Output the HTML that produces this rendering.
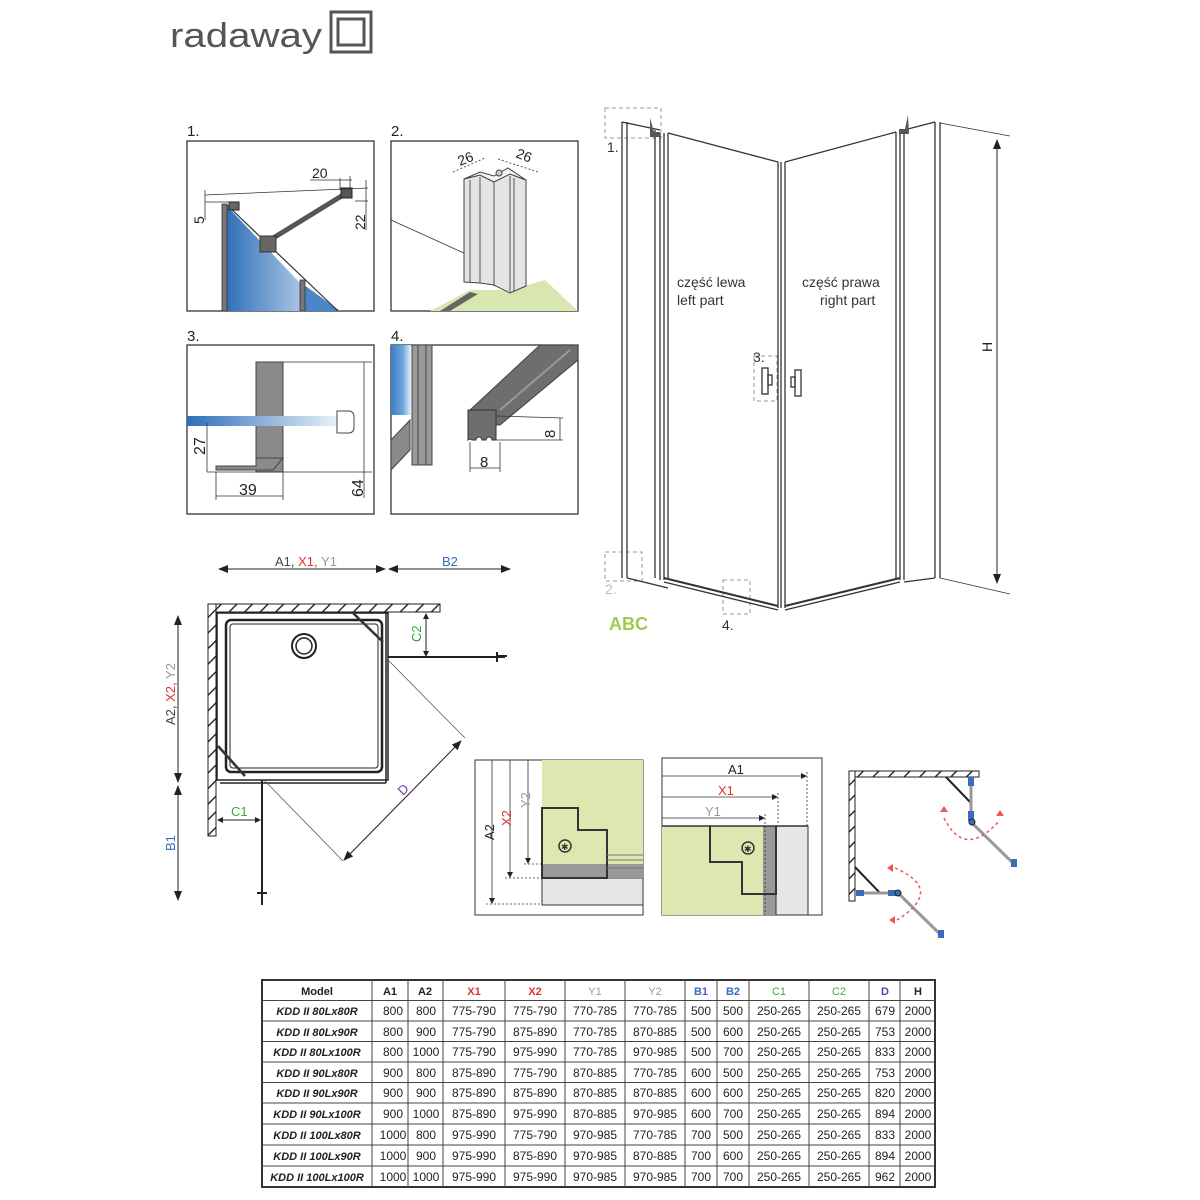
<!DOCTYPE html>
<html><head><meta charset="utf-8">
<style>
html,body{margin:0;padding:0;background:#fff;}
svg{display:block;}
text{font-family:"Liberation Sans",sans-serif;}
</style></head>
<body>
<svg width="1200" height="1200" viewBox="0 0 1200 1200" xmlns="http://www.w3.org/2000/svg">
<defs>
<pattern id="hatch" width="11" height="11" patternUnits="userSpaceOnUse" patternTransform="rotate(45)">
<rect width="11" height="11" fill="#fff"/><line x1="0" y1="0" x2="0" y2="11" stroke="#222" stroke-width="2.8"/>
</pattern>
<linearGradient id="glass" x1="0" x2="1" y1="0" y2="0">
<stop offset="0" stop-color="#2f6fb8"/><stop offset="1" stop-color="#e8f0fa"/>
</linearGradient>
<linearGradient id="glassv" x1="0" x2="1"><stop offset="0" stop-color="#3a7cc4"/><stop offset="0.6" stop-color="#6fa6dc"/><stop offset="1" stop-color="#e8f0fa"/></linearGradient>
<marker id="ar" markerWidth="10" markerHeight="8" refX="9" refY="4" orient="auto-start-reverse" markerUnits="userSpaceOnUse"><path d="M0,0 L10,4 L0,8 z" fill="#222"/></marker>
<marker id="as" markerWidth="6" markerHeight="6" refX="5" refY="3" orient="auto-start-reverse" markerUnits="userSpaceOnUse"><path d="M0,0 L6,3 L0,6 z" fill="#222"/></marker>
</defs>

<!-- logo -->
<text x="170" y="47" font-size="34" fill="#555" textLength="152" lengthAdjust="spacingAndGlyphs">radaway</text>
<rect x="331" y="12" width="40" height="40" fill="none" stroke="#555" stroke-width="3"/>
<rect x="338" y="19" width="26" height="26" fill="none" stroke="#555" stroke-width="3"/>

<!-- detail panels -->
<g font-size="15" fill="#222">
<text x="187" y="136">1.</text><text x="391" y="136">2.</text>
<text x="187" y="341">3.</text><text x="391" y="341">4.</text>
</g>
<g fill="none" stroke="#333" stroke-width="1.3">
<rect x="187" y="141" width="187" height="170"/>
<rect x="391" y="141" width="187" height="170"/>
<rect x="187" y="345" width="187" height="169"/>
<rect x="391" y="345" width="187" height="169"/>
</g>
<!-- panel 1 -->
<polygon points="226,205 300,283 339,311 226,311" fill="url(#glass)"/>
<polygon points="300,282 340,311 303,311" fill="#4a86c8"/>
<rect x="222" y="204" width="5" height="107" fill="#777" stroke="#333" stroke-width="0.8"/>
<line x1="227" y1="205" x2="338" y2="311" stroke="#333" stroke-width="1.2"/>
<rect x="300" y="280" width="5" height="31" fill="#777" stroke="#333" stroke-width="0.8"/>
<line x1="270" y1="240" x2="348" y2="192" stroke="#555" stroke-width="5"/>
<rect x="260" y="236" width="16" height="16" fill="#666" stroke="#333"/>
<rect x="341" y="188" width="11" height="10" fill="#555" stroke="#222"/>
<rect x="229" y="202" width="10" height="8" fill="#666" stroke="#222"/>
<g stroke="#333" stroke-width="0.8" fill="none">
<line x1="205" y1="195" x2="368" y2="188"/><line x1="205" y1="202" x2="230" y2="202"/>
<line x1="205" y1="190" x2="205" y2="220"/>
<line x1="340" y1="178" x2="340" y2="190"/><line x1="350" y1="176" x2="350" y2="190"/>
<line x1="310" y1="180" x2="352" y2="180"/>
<line x1="355" y1="201" x2="368" y2="201"/><line x1="366" y1="180" x2="366" y2="230"/>
</g>
<text x="312" y="178" font-size="14" fill="#222">20</text>
<text transform="translate(204,224) rotate(-90)" font-size="14" fill="#222">5</text>
<text transform="translate(365,230) rotate(-90)" font-size="14" fill="#222">22</text>
<!-- panel 2 -->
<polygon points="430,311 470,290 510,290 545,280 578,311" fill="#d8e6b0"/>
<polygon points="440,311 470,292 478,294 450,311" fill="#666"/>
<line x1="391" y1="220" x2="466" y2="254" stroke="#333" stroke-width="0.8"/>
<polygon points="464,179 480,175 494,182 510,174 526,180 526,286 510,293 494,285 480,283 464,282" fill="#e4e4e4" stroke="#444" stroke-width="1"/>
<polygon points="464,179 480,172 494,176 508,168 526,180 510,174 494,182 480,175" fill="#f4f4f4" stroke="#444" stroke-width="1"/>
<g stroke="#555" stroke-width="1"><line x1="470" y1="180" x2="470" y2="282"/><line x1="480" y1="177" x2="480" y2="283"/><line x1="494" y1="182" x2="494" y2="286"/><line x1="510" y1="176" x2="510" y2="292"/><line x1="514" y1="178" x2="514" y2="292"/></g>
<circle cx="499" cy="173" r="3" fill="#ccc" stroke="#444"/>
<g stroke="#333" stroke-dasharray="2,2" stroke-width="0.8"><line x1="453" y1="172" x2="485" y2="158"/><line x1="498" y1="159" x2="538" y2="172"/></g>
<text transform="translate(460,166) rotate(-22)" font-size="14" fill="#222">26</text>
<text transform="translate(515,157) rotate(22)" font-size="14" fill="#222">26</text>
<!-- panel 3 -->
<rect x="256" y="362" width="27" height="110" fill="#8a8a8a" stroke="#444"/>
<polygon points="216,466 256,466 256,458 283,458 273,470 216,470" fill="#8a8a8a" stroke="#444"/>
<rect x="187" y="416" width="150" height="10" fill="url(#glass)"/>
<path d="M337,411 h12 a5,5 0 0 1 5,5 v12 a5,5 0 0 1 -5,5 h-12 z" fill="#fff" stroke="#444"/>
<g stroke="#333" stroke-width="0.8"><line x1="283" y1="362" x2="372" y2="362"/><line x1="207" y1="472" x2="372" y2="472"/><line x1="364" y1="362" x2="364" y2="498"/><line x1="207" y1="423" x2="207" y2="472"/><line x1="216" y1="472" x2="216" y2="500"/><line x1="283" y1="472" x2="283" y2="500"/><line x1="216" y1="496" x2="283" y2="496"/></g>
<text transform="translate(205,455) rotate(-90)" font-size="16" fill="#222">27</text>
<text x="239" y="495" font-size="16" fill="#222">39</text>
<text transform="translate(363,497) rotate(-90)" font-size="16" fill="#222">64</text>
<!-- panel 4 -->
<rect x="391" y="345" width="20" height="70" fill="url(#glassv)"/>
<rect x="412" y="345" width="20" height="120" fill="#9a9a9a" stroke="#444"/>
<line x1="418" y1="345" x2="418" y2="465" stroke="#444"/><line x1="426" y1="345" x2="426" y2="465" stroke="#444"/>
<polygon points="391,440 410,420 410,450 391,470" fill="#8a8a8a" stroke="#444"/>
<polygon points="470,410 540,345 578,345 578,360 500,425 470,425" fill="#6e6e6e" stroke="#444"/>
<line x1="500" y1="410" x2="570" y2="350" stroke="#999" stroke-width="2"/>
<path d="M468,410 h28 v30 h-4 a3,3 0 0 0 -6,0 h-4 a3,3 0 0 0 -6,0 h-4 a3,3 0 0 0 -4,0 z" fill="#6e6e6e" stroke="#333"/>
<g stroke="#333" stroke-width="0.8"><line x1="496" y1="416" x2="563" y2="418"/><line x1="496" y1="440" x2="563" y2="440"/><line x1="560" y1="418" x2="560" y2="440"/><line x1="470" y1="442" x2="470" y2="472"/><line x1="500" y1="442" x2="500" y2="472"/><line x1="470" y1="468" x2="500" y2="468"/></g>
<text transform="translate(555,438) rotate(-90)" font-size="15" fill="#222">8</text>
<text x="480" y="467" font-size="15" fill="#222">8</text>

<!-- shower elevation -->
<g stroke="#333" fill="none" stroke-width="1.3">
<rect x="605" y="108" width="56" height="30" stroke="#999" stroke-dasharray="4,3" stroke-width="1"/>
<rect x="605" y="552" width="37" height="29" stroke="#999" stroke-dasharray="4,3" stroke-width="1"/>
<rect x="723" y="580" width="27" height="34" stroke="#999" stroke-dasharray="4,3" stroke-width="1"/>
<rect x="754" y="356" width="23" height="45" stroke="#999" stroke-dasharray="4,3" stroke-width="1"/>
<line x1="622" y1="122" x2="622" y2="578"/><line x1="627" y1="122" x2="627" y2="578"/>
<line x1="655" y1="130" x2="655" y2="578"/>
<line x1="660" y1="133" x2="660" y2="580"/><line x1="664" y1="133" x2="664" y2="580"/><line x1="668" y1="133" x2="668" y2="580"/>
<line x1="622" y1="122" x2="660" y2="130"/>
<line x1="668" y1="133" x2="778" y2="162"/>
<line x1="778" y1="162" x2="778" y2="608"/><line x1="781" y1="162" x2="781" y2="608"/><line x1="785" y1="162" x2="785" y2="608"/>
<line x1="785" y1="162" x2="896" y2="132"/>
<line x1="896" y1="132" x2="896" y2="580"/><line x1="900" y1="132" x2="900" y2="580"/><line x1="904" y1="132" x2="904" y2="580"/>
<line x1="904" y1="130" x2="935" y2="122"/>
<line x1="935" y1="122" x2="935" y2="578"/><line x1="940" y1="122" x2="940" y2="578"/>
<line x1="627" y1="578" x2="668" y2="588"/>
<line x1="664" y1="578" x2="778" y2="606" stroke-width="2"/><line x1="664" y1="582" x2="778" y2="610"/>
<line x1="785" y1="606" x2="900" y2="578" stroke-width="2"/><line x1="785" y1="610" x2="900" y2="582"/>
<line x1="904" y1="582" x2="935" y2="578"/>
<line x1="940" y1="123" x2="1010" y2="136" stroke-width="0.8"/>
<line x1="940" y1="578" x2="1010" y2="594" stroke-width="0.8"/>
<rect x="762" y="368" width="6" height="26"/><rect x="768" y="375" width="4" height="10"/>
<rect x="795" y="370" width="6" height="26"/><rect x="791" y="377" width="4" height="10"/>
</g>
<path d="M650,118 l4,14 h6 v5 h-10 z" fill="#555"/><path d="M908,115 l-3,14 h-6 v5 h10 z" fill="#555"/>
<line x1="997" y1="140" x2="997" y2="583" stroke="#222" stroke-width="1" marker-start="url(#ar)" marker-end="url(#ar)"/>
<text transform="translate(992,352) rotate(-90)" font-size="14" fill="#222">H</text>
<g font-size="14" fill="#333">
<text x="677" y="287">część lewa</text><text x="677" y="305">left part</text>
<text x="802" y="287">część prawa</text><text x="820" y="305">right part</text>
<text x="607" y="152">1.</text><text x="605" y="594" fill="#bbb">2.</text>
<text x="753" y="362">3.</text>
</g>
<rect x="720" y="616" width="20" height="16" fill="#fff"/>
<text x="722" y="630" font-size="14" fill="#333">4.</text>
<text x="609" y="630" font-size="18" font-weight="bold" fill="#9ccc4e">ABC</text>

<!-- plan view -->
<line x1="219" y1="569" x2="385" y2="569" stroke="#222" marker-start="url(#ar)" marker-end="url(#ar)"/>
<line x1="389" y1="569" x2="510" y2="569" stroke="#222" marker-start="url(#ar)" marker-end="url(#ar)"/>
<text x="275" y="566" font-size="13" fill="#444">A1, <tspan fill="#d33">X1,</tspan> <tspan fill="#999">Y1</tspan></text>
<text x="442" y="566" font-size="13" fill="#3a6cb8">B2</text>
<rect x="208" y="604" width="232" height="8" fill="url(#hatch)" stroke="#222"/>
<rect x="208" y="604" width="8" height="232" fill="url(#hatch)" stroke="#222"/>
<g fill="none" stroke="#222">
<rect x="217" y="613" width="171" height="167" stroke-width="1.5"/>
<rect x="226" y="620" width="156" height="152" rx="5" stroke-width="2.5"/>
<rect x="230" y="624" width="148" height="144" rx="3" stroke-width="1"/>
<circle cx="304" cy="646" r="12" stroke-width="2"/><circle cx="304" cy="646" r="8" stroke-width="1.5"/>
<line x1="220" y1="783" x2="386" y2="783" stroke-width="1.5"/>
<line x1="386" y1="613" x2="386" y2="783" stroke-width="1.5"/>
</g>
<line x1="352" y1="612" x2="383" y2="642" stroke="#333" stroke-width="2.5"/>
<line x1="218" y1="746" x2="245" y2="776" stroke="#333" stroke-width="2.5"/>
<line x1="388" y1="657" x2="505" y2="657" stroke="#222" stroke-width="2"/>
<path d="M497,652 v10 M497,656 h10" stroke="#222" stroke-width="2" fill="none"/>
<line x1="262" y1="780" x2="262" y2="905" stroke="#222" stroke-width="2"/>
<path d="M257,893 h10 M262,887 v12" stroke="#222" stroke-width="2"/>
<line x1="426" y1="614" x2="426" y2="656" stroke="#222" marker-start="url(#as)" marker-end="url(#as)"/>
<text transform="translate(421,642) rotate(-90)" font-size="13" fill="#3a3">C2</text>
<line x1="218" y1="820" x2="260" y2="820" stroke="#222" marker-start="url(#as)" marker-end="url(#as)"/>
<text x="231" y="816" font-size="13" fill="#3a3">C1</text>
<g stroke="#555" stroke-width="0.8"><line x1="388" y1="660" x2="465" y2="738"/><line x1="264" y1="780" x2="343" y2="861"/></g>
<line x1="344" y1="860" x2="461" y2="741" stroke="#222" marker-start="url(#ar)" marker-end="url(#ar)"/>
<text transform="translate(403,796) rotate(-45)" font-size="13" fill="#6a3aa8">D</text>
<line x1="178" y1="616" x2="178" y2="782" stroke="#222" marker-start="url(#ar)" marker-end="url(#ar)"/>
<line x1="178" y1="786" x2="178" y2="900" stroke="#222" marker-start="url(#ar)" marker-end="url(#ar)"/>
<text transform="translate(175,725) rotate(-90)" font-size="13" fill="#444">A2, <tspan fill="#d33">X2,</tspan> <tspan fill="#999">Y2</tspan></text>
<text transform="translate(175,851) rotate(-90)" font-size="13" fill="#3a6cb8">B1</text>

<!-- detail left -->
<rect x="475" y="760" width="168" height="155" fill="#fff" stroke="#333"/>
<rect x="542" y="760" width="101" height="118" fill="#dce8b0"/>
<rect x="542" y="878" width="101" height="27" fill="#e6e6e6" stroke="#333"/>
<rect x="542" y="864" width="101" height="14" fill="#999"/>
<path d="M542,808 h36 v22 h29 v48 h-65 z" fill="none" stroke="#333" stroke-width="2"/>
<g stroke="#777"><line x1="607" y1="855" x2="643" y2="855"/><line x1="607" y1="860" x2="643" y2="860"/><line x1="607" y1="868" x2="643" y2="868"/></g>
<circle cx="565" cy="846" r="6" fill="none" stroke="#333" stroke-width="1.5"/><text x="561" y="850" font-size="9" fill="#333">✱</text>
<g stroke="#333" stroke-width="0.8"><line x1="492" y1="760" x2="492" y2="903" marker-end="url(#as)"/><line x1="510" y1="760" x2="510" y2="877" marker-end="url(#as)"/><line x1="528" y1="760" x2="528" y2="863" marker-end="url(#as)"/></g>
<g stroke="#333" stroke-width="0.8" stroke-dasharray="2,2"><line x1="486" y1="904" x2="542" y2="904"/><line x1="505" y1="878" x2="542" y2="878"/><line x1="524" y1="864" x2="542" y2="864"/></g>
<text transform="translate(494,840) rotate(-90)" font-size="13" fill="#222">A2</text>
<text transform="translate(511,826) rotate(-90)" font-size="13" fill="#d33">X2</text>
<text transform="translate(530,808) rotate(-90)" font-size="13" fill="#999">Y2</text>

<!-- detail right -->
<rect x="662" y="758" width="160" height="157" fill="#fff" stroke="#333"/>
<rect x="662" y="826" width="101" height="89" fill="#dce8b0"/>
<rect x="763" y="826" width="13" height="89" fill="#999"/>
<rect x="776" y="826" width="32" height="89" fill="#e6e6e6" stroke="#333"/>
<line x1="662" y1="826" x2="808" y2="826" stroke="#333" stroke-width="1.5"/>
<path d="M710,826 v36 h32 v32 h34 v-68" fill="none" stroke="#333" stroke-width="2"/>
<circle cx="748" cy="848" r="6" fill="none" stroke="#333" stroke-width="1.5"/><text x="744" y="852" font-size="9" fill="#333">✱</text>
<g stroke="#333" stroke-width="0.8"><line x1="662" y1="776" x2="806" y2="776" marker-end="url(#as)"/><line x1="662" y1="797" x2="777" y2="797" marker-end="url(#as)"/><line x1="662" y1="818" x2="764" y2="818" marker-end="url(#as)"/></g>
<g stroke="#333" stroke-width="0.8" stroke-dasharray="2,2"><line x1="807" y1="772" x2="807" y2="826"/><line x1="778" y1="793" x2="778" y2="826"/><line x1="765" y1="814" x2="765" y2="915"/></g>
<text x="728" y="774" font-size="13" fill="#222">A1</text>
<text x="718" y="795" font-size="13" fill="#d33">X1</text>
<text x="705" y="816" font-size="13" fill="#999">Y1</text>

<!-- detail swing -->
<rect x="849" y="771" width="130" height="6" fill="url(#hatch)" stroke="#222"/>
<rect x="849" y="771" width="6" height="130" fill="url(#hatch)" stroke="#222"/>
<g stroke="#222" stroke-width="2"><line x1="946" y1="777" x2="970" y2="802"/><line x1="855" y1="867" x2="880" y2="893"/></g>
<g stroke="#999" stroke-width="3"><line x1="971" y1="780" x2="971" y2="820"/><line x1="971" y1="822" x2="1016" y2="866"/><line x1="858" y1="893" x2="898" y2="893"/><line x1="898" y1="893" x2="943" y2="937"/></g>
<g fill="#3a6cb8"><rect x="968" y="777" width="6" height="9"/><rect x="968" y="811" width="6" height="10"/><rect x="856" y="890" width="8" height="6"/><rect x="888" y="890" width="10" height="6"/><rect x="1011" y="859" width="6" height="8"/><rect x="938" y="930" width="6" height="8"/></g>
<circle cx="972" cy="822" r="3" fill="#3a6cb8" stroke="#222"/><circle cx="898" cy="893" r="3" fill="#3a6cb8" stroke="#222"/>
<path d="M944,818 Q965,860 1000,820" fill="none" stroke="#e55" stroke-width="1.5" stroke-dasharray="3,3"/>
<path d="M895,868 Q945,890 897,920" fill="none" stroke="#e55" stroke-width="1.5" stroke-dasharray="3,3"/>
<path d="M940,812 l4,-6 l4,6 z M996,816 l4,-6 l4,6 z M893,864 l-6,4 l6,4 z M895,916 l-6,4 l6,4 z" fill="#e55"/>

<!-- table -->
<g font-size="11" fill="#222" text-anchor="middle">
<rect x="262" y="980" width="673" height="207" fill="#fff" stroke="#333" stroke-width="2"/>
<g stroke="#444" stroke-width="1">
<line x1="372" y1="980" x2="372" y2="1187"/><line x1="408" y1="980" x2="408" y2="1187"/><line x1="443" y1="980" x2="443" y2="1187"/><line x1="505" y1="980" x2="505" y2="1187"/><line x1="565" y1="980" x2="565" y2="1187"/><line x1="625" y1="980" x2="625" y2="1187"/><line x1="685" y1="980" x2="685" y2="1187"/><line x1="717" y1="980" x2="717" y2="1187"/><line x1="749" y1="980" x2="749" y2="1187"/><line x1="809" y1="980" x2="809" y2="1187"/><line x1="869" y1="980" x2="869" y2="1187"/><line x1="900" y1="980" x2="900" y2="1187"/>
<line x1="262" y1="1000.5" x2="935" y2="1000.5"/><line x1="262" y1="1021" x2="935" y2="1021"/><line x1="262" y1="1041.5" x2="935" y2="1041.5"/><line x1="262" y1="1062" x2="935" y2="1062"/><line x1="262" y1="1082.5" x2="935" y2="1082.5"/><line x1="262" y1="1103" x2="935" y2="1103"/><line x1="262" y1="1124" x2="935" y2="1124"/><line x1="262" y1="1145" x2="935" y2="1145"/><line x1="262" y1="1166" x2="935" y2="1166"/>
</g>
<g font-weight="bold"><text x="317" y="995">Model</text><text x="390" y="995">A1</text><text x="425" y="995">A2</text><text x="474" y="995" fill="#d33">X1</text><text x="535" y="995" fill="#d33">X2</text><text x="595" y="995" fill="#999" font-weight="normal">Y1</text><text x="655" y="995" fill="#999" font-weight="normal">Y2</text><text x="701" y="995" fill="#3a6cb8">B1</text><text x="733" y="995" fill="#3a6cb8">B2</text><text x="779" y="995" fill="#4a4" font-weight="normal">C1</text><text x="839" y="995" fill="#4a4" font-weight="normal">C2</text><text x="885" y="995" fill="#6a3aa8">D</text><text x="918" y="995">H</text></g>
</g>
<g font-size="12" fill="#222" text-anchor="middle">
<g font-weight="bold" font-style="italic" font-size="11">
<text x="317" y="1015">KDD II 80Lx80R</text><text x="317" y="1036">KDD II 80Lx90R</text><text x="317" y="1056">KDD II 80Lx100R</text><text x="317" y="1077">KDD II 90Lx80R</text><text x="317" y="1097">KDD II 90Lx90R</text><text x="317" y="1118">KDD II 90Lx100R</text><text x="317" y="1139">KDD II 100Lx80R</text><text x="317" y="1160">KDD II 100Lx90R</text><text x="317" y="1181">KDD II 100Lx100R</text>
</g>
<text y="1015"><tspan x="393">800</tspan><tspan x="426">800</tspan><tspan x="474">775-790</tspan><tspan x="535">775-790</tspan><tspan x="595">770-785</tspan><tspan x="655">770-785</tspan><tspan x="701">500</tspan><tspan x="733">500</tspan><tspan x="779">250-265</tspan><tspan x="839">250-265</tspan><tspan x="885">679</tspan><tspan x="918">2000</tspan></text>
<text y="1036"><tspan x="393">800</tspan><tspan x="426">900</tspan><tspan x="474">775-790</tspan><tspan x="535">875-890</tspan><tspan x="595">770-785</tspan><tspan x="655">870-885</tspan><tspan x="701">500</tspan><tspan x="733">600</tspan><tspan x="779">250-265</tspan><tspan x="839">250-265</tspan><tspan x="885">753</tspan><tspan x="918">2000</tspan></text>
<text y="1056"><tspan x="393">800</tspan><tspan x="426">1000</tspan><tspan x="474">775-790</tspan><tspan x="535">975-990</tspan><tspan x="595">770-785</tspan><tspan x="655">970-985</tspan><tspan x="701">500</tspan><tspan x="733">700</tspan><tspan x="779">250-265</tspan><tspan x="839">250-265</tspan><tspan x="885">833</tspan><tspan x="918">2000</tspan></text>
<text y="1077"><tspan x="393">900</tspan><tspan x="426">800</tspan><tspan x="474">875-890</tspan><tspan x="535">775-790</tspan><tspan x="595">870-885</tspan><tspan x="655">770-785</tspan><tspan x="701">600</tspan><tspan x="733">500</tspan><tspan x="779">250-265</tspan><tspan x="839">250-265</tspan><tspan x="885">753</tspan><tspan x="918">2000</tspan></text>
<text y="1097"><tspan x="393">900</tspan><tspan x="426">900</tspan><tspan x="474">875-890</tspan><tspan x="535">875-890</tspan><tspan x="595">870-885</tspan><tspan x="655">870-885</tspan><tspan x="701">600</tspan><tspan x="733">600</tspan><tspan x="779">250-265</tspan><tspan x="839">250-265</tspan><tspan x="885">820</tspan><tspan x="918">2000</tspan></text>
<text y="1118"><tspan x="393">900</tspan><tspan x="426">1000</tspan><tspan x="474">875-890</tspan><tspan x="535">975-990</tspan><tspan x="595">870-885</tspan><tspan x="655">970-985</tspan><tspan x="701">600</tspan><tspan x="733">700</tspan><tspan x="779">250-265</tspan><tspan x="839">250-265</tspan><tspan x="885">894</tspan><tspan x="918">2000</tspan></text>
<text y="1139"><tspan x="393">1000</tspan><tspan x="426">800</tspan><tspan x="474">975-990</tspan><tspan x="535">775-790</tspan><tspan x="595">970-985</tspan><tspan x="655">770-785</tspan><tspan x="701">700</tspan><tspan x="733">500</tspan><tspan x="779">250-265</tspan><tspan x="839">250-265</tspan><tspan x="885">833</tspan><tspan x="918">2000</tspan></text>
<text y="1160"><tspan x="393">1000</tspan><tspan x="426">900</tspan><tspan x="474">975-990</tspan><tspan x="535">875-890</tspan><tspan x="595">970-985</tspan><tspan x="655">870-885</tspan><tspan x="701">700</tspan><tspan x="733">600</tspan><tspan x="779">250-265</tspan><tspan x="839">250-265</tspan><tspan x="885">894</tspan><tspan x="918">2000</tspan></text>
<text y="1181"><tspan x="393">1000</tspan><tspan x="426">1000</tspan><tspan x="474">975-990</tspan><tspan x="535">975-990</tspan><tspan x="595">970-985</tspan><tspan x="655">970-985</tspan><tspan x="701">700</tspan><tspan x="733">700</tspan><tspan x="779">250-265</tspan><tspan x="839">250-265</tspan><tspan x="885">962</tspan><tspan x="918">2000</tspan></text>
</g>
</svg>
</body></html>
